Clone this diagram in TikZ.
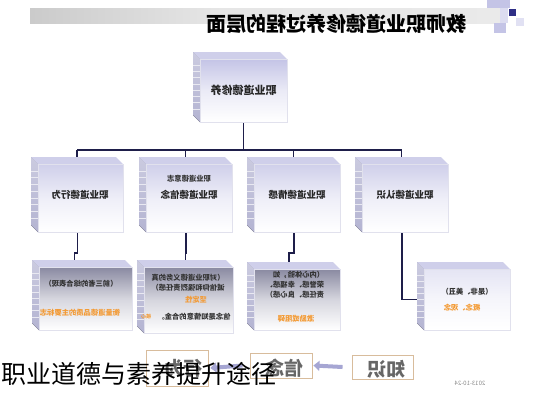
\documentclass[tikz,border=0pt]{standalone}
\usepackage{fontspec}
\usepackage{graphicx}
\setmainfont{Noto Sans CJK SC}
\usetikzlibrary{calc,arrows.meta}
\pgfdeclarelayer{bg}
\pgfsetlayers{bg,main}
\definecolor{navy}{HTML}{2E2E86}
\definecolor{lav}{HTML}{C4C4E6}
\definecolor{sidecol}{HTML}{B4B4D2}
\definecolor{topcol}{HTML}{CFCFEA}
\definecolor{conncol}{HTML}{1E1E4A}
\definecolor{orng}{HTML}{F39A34}
\definecolor{tan}{HTML}{D8BC9C}
\colorlet{lavlight}{lav!45}
\colorlet{lavdark}{black!30!lav}
\newcommand\mirtxt[1]{\reflectbox{#1}}
\newcommand\cubebox[7]{%
  \fill[top color=sidecol!70, bottom color=sidecol] (#1,#2) -- ({#1+7},{#2+7}) -- ({#1+7},#4) -- (#1,{#4-7}) -- cycle;
  \foreach \k in {1,...,8} {\draw[white!70!sidecol, line width=0.4pt] (#1,{#2+7+\k*(#4-#2-14)/9}) -- ({#1+7},{#2+7+\k*(#4-#2-14)/9});}
  \fill[topcol] (#1,#2) -- ({#3-7},#2) -- (#3,{#2+7}) -- ({#1+7},{#2+7}) -- cycle;
  \node[frontface, top color=#5, bottom color=white, middle color=#5!35!white,
        minimum width={#3-#1-7}, minimum height={#4-#2-7}]
        (#6) at ({(#1+7+#3)/2},{(#2+7+#4)/2}) {#7};
}
\tikzset{
  frontface/.style={draw=white!60!sidecol, line width=0.5pt, inner sep=0pt, outer sep=0pt},
  conn/.style={draw=conncol, line width=1.3pt},
  lvtwo/.style={font=\bfseries\fontsize{9.5}{11}\selectfont, text=black!85},
  lvthree/.style={font=\bfseries\fontsize{7.3}{10}\selectfont, text=black!80},
  orangetxt/.style={font=\bfseries\fontsize{7.3}{10}\selectfont, text=orng},
  stagebox/.style={draw=tan, line width=0.9pt, fill=white, inner sep=0pt},
  stagetxt/.style={font=\bfseries\fontsize{19}{20}\selectfont, text=black!60},
  flowarrow/.style={draw=lav!80!navy, line width=4pt, -{Triangle[width=10pt,length=6pt]}},
}
\begin{document}
\begin{tikzpicture}[x=1pt,y=-1pt]
\useasboundingbox (0,0) rectangle (533,400);

% title banner
\pgfdeclarehorizontalshading{banner}{100bp}{color(0bp)=(white); color(8bp)=(white); color(22bp)=(black!22); color(45bp)=(black!10); color(80bp)=(black!8); color(88bp)=(lav); color(92bp)=(navy); color(100bp)=(navy)}
\shade[shading=banner] (30,8) rectangle (500,23);
\fill[lav] (487,0) rectangle (510,8);
\fill[lav!60] (500,8) rectangle (508,23);
\fill[navy] (509,9) rectangle (516,16);
\fill[lav] (494,23) rectangle (506,33);
\fill[lav!50] (516,18) rectangle (524,26);
\node[font=\bfseries\fontsize{20}{22}\selectfont] (title) at (336,24) {\mirtxt{教师职业道德修养过程的层面}};

% top box
\cubebox{193}{52}{287}{122}{lav}{topbox}{}
\node[font=\bfseries\fontsize{11}{12}\selectfont, text=black!85] (toptxt) at (243.5,90) {\mirtxt{职业道德修养}};

% level 2
\cubebox{31}{157}{123}{232}{topcol}{ba}{}
\cubebox{139}{157}{232}{232}{topcol}{bb}{}
\cubebox{247}{157}{340}{232}{topcol}{bc}{}
\cubebox{355}{157}{448}{232}{topcol}{bd}{}
\node[lvtwo] (ta) at (80,195) {\mirtxt{职业道德行为}};
\node[lvthree] (tbs) at (189,179) {\mirtxt{职业道德意志}};
\node[lvtwo] (tb) at (189,195) {\mirtxt{职业道德信念}};
\node[lvtwo] (tc) at (297,195) {\mirtxt{职业道德情感}};
\node[lvtwo] (td) at (405,195) {\mirtxt{职业道德认识}};

% level 3
\cubebox{32}{260}{132}{330}{lavdark}{ca}{}
\cubebox{137}{260}{233}{333}{lavdark}{cb}{}
\cubebox{247}{262}{340}{330}{lavdark}{cc}{}
\cubebox{417}{262}{510}{330}{lavlight}{cd}{}
\node[lvthree] (caa) at (81,284) {\mirtxt{（前三者的综合表现）}};
\node[orangetxt] (cab) at (80,313) {\mirtxt{衡量道德品质的主要标志}};
\node[lvthree, inner sep=0pt] (cba) at (188,283) {\mirtxt{\begin{tabular}{@{}l@{}}（对职业道德义务的真\\诚信仰和强烈责任感）\end{tabular}}};
\node[orangetxt] (cbb) at (196,300) {\mirtxt{坚定性}};
\node[lvthree] (cbc) at (194,317) {\mirtxt{信念是知情意的合金。}};
\node[orangetxt, font=\bfseries\fontsize{5}{6}\selectfont] (cbd) at (146,317) {\mirtxt{核心}};
\node[lvthree, inner sep=0pt] (cca) at (295,285) {\mirtxt{\begin{tabular}{@{}l@{}}（内心体验，如\\荣誉感、幸福感、\\责任感、良心感）\end{tabular}}};
\node[orangetxt] (ccb) at (296,319) {\mirtxt{激励或阻碍}};
\node[lvthree] (cda) at (467,292) {\mirtxt{（是非、美丑）}};
\node[orangetxt] (cdb) at (462,308) {\mirtxt{概念、观念}};

% connectors
\begin{pgfonlayer}{bg}
\fill[white] (0,0) rectangle (533,400);
\draw[conn] ([xshift=0pt]topbox.south) -- ++(0,28) coordinate (hub);
\draw[conn] ([xshift=-3.5pt]ba.north |- hub) -- ([xshift=-3.5pt]bd.north |- hub);
\draw[conn] ([xshift=-3.5pt]ba.north |- hub) -- ([xshift=-3.5pt,yshift=7pt]ba.north);
\draw[conn] ([xshift=-3.5pt]bb.north |- hub) -- ([xshift=-3.5pt,yshift=7pt]bb.north);
\draw[conn] ([xshift=-3.5pt]bc.north |- hub) -- ([xshift=-3.5pt,yshift=7pt]bc.north);
\draw[conn] ([xshift=-3.5pt]bd.north |- hub) -- ([xshift=-3.5pt,yshift=7pt]bd.north);
\draw[conn] ([xshift=-3pt]ba.south) -- ++(0,21) -| ([xshift=-11pt,yshift=7pt]ca.north);
\draw[conn] ([xshift=-3pt]bb.south) -- ++(0,21) -| ([xshift=-3pt,yshift=7pt]cb.north);
\draw[conn] ([xshift=-3pt]bc.south) -- ++(0,21) -| ([xshift=-8pt,yshift=7pt]cc.north);
\draw[conn] ([xshift=-3pt]bd.south) |- ([xshift=-2pt]cd.west);
\end{pgfonlayer}

% bottom stages
\node[stagebox, minimum width=62, minimum height=36] (xw) at (177,368) {};
\node[stagetxt] (xwt) at (183,368) {\mirtxt{行为}};
\node[stagebox, minimum width=62, minimum height=25] (xn) at (281,365.5) {};
\node[stagetxt] (xnt) at (284,368) {\mirtxt{信念}};
\node[stagebox, minimum width=61, minimum height=24] (zs) at (382.5,367) {};
\node[stagetxt] (zst) at (386,369) {\mirtxt{知识}};
\draw[flowarrow] ([xshift=-9pt]zs.west) -- ([xshift=1pt]xn.east);
\draw[flowarrow] ([xshift=-7pt]xn.west) -- ([xshift=2pt]xw.east);

\node[font=\fontsize{6}{7}\selectfont, text=black!45] (date) at (470,383) {\mirtxt{2013-10-24}};

% overlay caption
\node[anchor=west, inner sep=1pt, font=\fontsize{25}{26}\selectfont, text=black] (caption) at (0,374) {职业道德与素养提升途径};
\end{tikzpicture}
\end{document}
